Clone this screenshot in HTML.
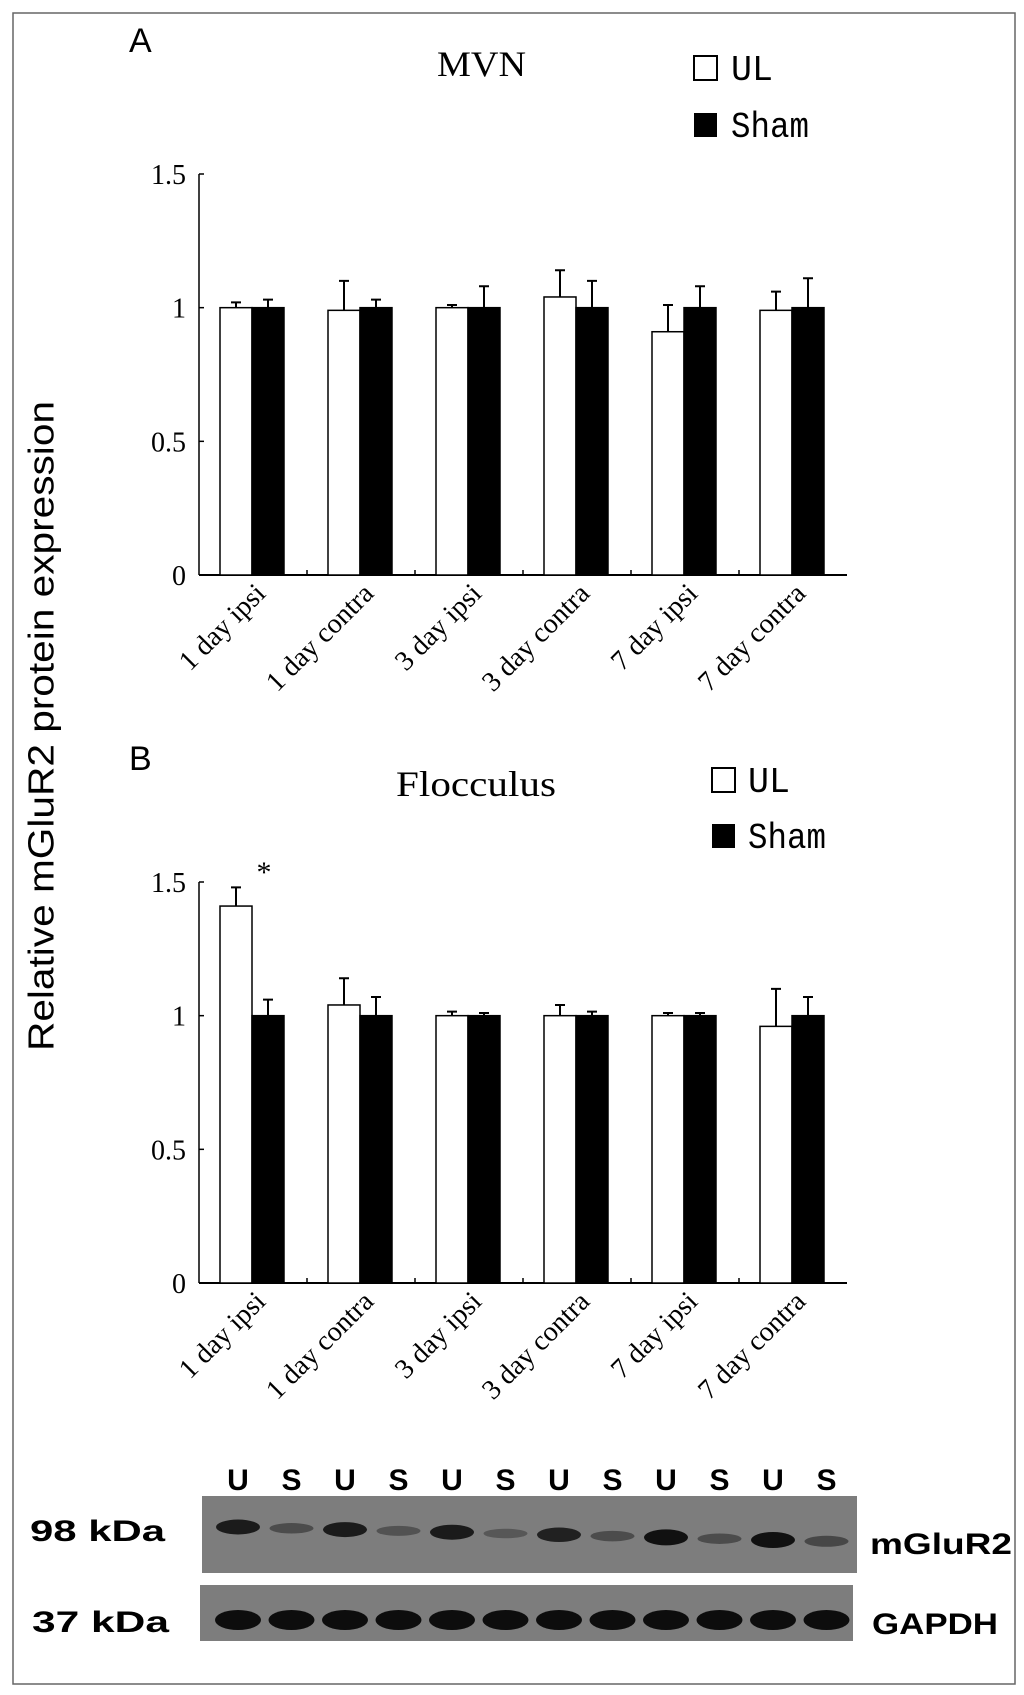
<!DOCTYPE html>
<html><head><meta charset="utf-8"><style>
html,body{margin:0;padding:0;background:#fff;}
svg{display:block;}
.ser{font-family:"Liberation Serif",serif;}
.sans{font-family:"Liberation Sans",sans-serif;}
.mono{font-family:"Liberation Mono",monospace;}
</style></head><body>
<svg id="fig" width="1024" height="1695" viewBox="0 0 1024 1695">
<rect x="13" y="13" width="1002" height="1671" fill="none" stroke="#666" stroke-width="1.5"/>
<text x="44" y="726" transform="rotate(-90 44 726)" text-anchor="middle" dominant-baseline="middle" class="sans" font-size="36" textLength="650" lengthAdjust="spacingAndGlyphs">Relative mGluR2 protein expression</text>

<text x="129" y="52" class="sans" font-size="34">A</text>
<text x="437" y="76" class="ser" font-size="36" textLength="89" lengthAdjust="spacingAndGlyphs">MVN</text>
<rect x="694" y="56" width="23" height="24" fill="#fff" stroke="#000" stroke-width="2"/>
<text x="731" y="80" class="mono" font-size="36" textLength="42" lengthAdjust="spacingAndGlyphs">UL</text>
<rect x="694" y="113" width="23" height="24" fill="#000"/>
<text x="731" y="137" class="mono" font-size="36" textLength="78" lengthAdjust="spacingAndGlyphs">Sham</text>

<text x="129" y="770" class="sans" font-size="34">B</text>
<text x="396" y="796" class="ser" font-size="36" textLength="160" lengthAdjust="spacingAndGlyphs">Flocculus</text>
<rect x="712" y="768" width="23" height="24" fill="#fff" stroke="#000" stroke-width="2"/>
<text x="748" y="792" class="mono" font-size="36" textLength="42" lengthAdjust="spacingAndGlyphs">UL</text>
<rect x="712" y="824" width="23" height="24" fill="#000"/>
<text x="748" y="848" class="mono" font-size="36" textLength="78" lengthAdjust="spacingAndGlyphs">Sham</text>
<text x="264" y="882" text-anchor="middle" class="ser" font-size="30">*</text>

<g id="chartA"></g>
<g id="chartB"></g>
<g id="blot"></g>
</svg>
<script>
const categories = ["1 day ipsi","1 day contra","3 day ipsi","3 day contra","7 day ipsi","7 day contra"];
const yTicks = [0, 0.5, 1, 1.5];
const yTickLabels = ["0","0.5","1","1.5"];
const mvnUL = [1.0, 0.99, 1.0, 1.04, 0.91, 0.99];
const mvnULErr = [0.02, 0.11, 0.01, 0.10, 0.10, 0.07];
const mvnSham = [1, 1, 1, 1, 1, 1];
const mvnShamErr = [0.03, 0.03, 0.08, 0.10, 0.08, 0.11];
const flocUL = [1.41, 1.04, 1.0, 1.0, 1.0, 0.96];
const flocULErr = [0.07, 0.10, 0.015, 0.04, 0.01, 0.14];
const flocSham = [1, 1, 1, 1, 1, 1];
const flocShamErr = [0.06, 0.07, 0.01, 0.015, 0.01, 0.07];
const laneLabels = ["U","S","U","S","U","S","U","S","U","S","U","S"];
const mglurIntensity = [0.9,0.45,0.9,0.4,0.9,0.35,0.85,0.45,1.0,0.45,1.0,0.5];
const gapdhIntensity = [1,1,1,1,1,1,1,1,1,1,1,1];

const NS="http://www.w3.org/2000/svg";
function mk(tag, attrs, parent){const e=document.createElementNS(NS,tag);for(const k in attrs)e.setAttribute(k,attrs[k]);parent.appendChild(e);return e;}

function drawChart(g, y0px, y15px, ul, ulErr, sham, shamErr, prefix){
  const x0=199, x1=847, n=categories.length, gw=(x1-x0)/n;
  const yS=v=>y0px-(v/1.5)*(y0px-y15px);
  const xS=i=>x0+i*gw;
  let a=mk('line',{x1:x0,y1:yS(0),x2:x0,y2:yS(1.5),stroke:'#000','stroke-width':1.5},g);
  
  
  a=mk('line',{x1:x0,y1:yS(0),x2:x1,y2:yS(0),stroke:'#000','stroke-width':2},g);
  
  
  yTicks.forEach((t,i)=>{
    const tk=mk('line',{x1:x0,y1:yS(t),x2:x0+5,y2:yS(t),stroke:'#000','stroke-width':1.5},g);
    
    
    const tl=mk('text',{x:x0-13,y:yS(t)+10,'text-anchor':'end','class':'ser','font-size':28},g);
    tl.textContent=yTickLabels[i];
    
    
  });
  for(let i=1;i<n;i++){
    const tk=mk('line',{x1:xS(i),y1:yS(0),x2:xS(i),y2:yS(0)-5,stroke:'#000','stroke-width':1.5},g);
    
    
  }
  categories.forEach((c,i)=>{
    const bx=xS(i)+21, bw=32;
    [[ul,ulErr,'#fff','ul'],[sham,shamErr,'#000','sham']].forEach((s,j)=>{
      const v=s[0][i], e=s[1][i], x=bx+j*bw;
      const r=mk('rect',{x:x,y:yS(v),width:bw,height:yS(0)-yS(v),fill:s[2],stroke:'#000','stroke-width':1.5},g);
      
      
      const cx=x+bw/2;
      const el=mk('path',{d:`M${cx},${yS(v)}V${yS(v+e)}M${cx-5},${yS(v+e)}H${cx+5}`,stroke:'#000','stroke-width':2,fill:'none'},g);
      
      
    });
    const cx=xS(i)+gw/2+14, ty=yS(0)+20;
    const lt=mk('text',{x:cx,y:ty,'text-anchor':'end','class':'ser','font-size':28,transform:`rotate(-45 ${cx} ${ty})`},g);
    lt.textContent=c;
    
    
  });
}
drawChart(document.getElementById('chartA'),575,174,mvnUL,mvnULErr,mvnSham,mvnShamErr,'mvn');
drawChart(document.getElementById('chartB'),1283,882,flocUL,flocULErr,flocSham,flocShamErr,'floc');

const b=document.getElementById('blot');
const laneX=i=>238+i*53.5;
laneLabels.forEach((l,i)=>{
  const t=mk('text',{x:laneX(i),y:1490,'text-anchor':'middle','class':'sans','font-size':30,'font-weight':'bold'},b);
  t.textContent=l;
  
  
});
let r=mk('rect',{x:202,y:1496,width:655,height:77,fill:'#7d7d7d'},b);


r=mk('rect',{x:200,y:1585,width:653,height:56,fill:'#7d7d7d'},b);


mglurIntensity.forEach((v,i)=>{
  const e=mk('ellipse',{cx:laneX(i),cy:1527+i*1.3,rx:22,ry:3+5*v,fill:'#111','fill-opacity':v},b);
  
  
});
gapdhIntensity.forEach((v,i)=>{
  const e=mk('ellipse',{cx:laneX(i),cy:1620,rx:23,ry:10,fill:'#0d0d0d','fill-opacity':v},b);
  
  
});
[["98 kDa",30,1541,135,'mw-98-label'],["37 kDa",32,1632,137,'mw-37-label'],["mGluR2",870,1554,142,'mglur2-label'],["GAPDH",872,1634,126,'gapdh-label']].forEach(d=>{
  const t=mk('text',{x:d[1],y:d[2],'class':'sans','font-size':30,'font-weight':'bold',textLength:d[3],lengthAdjust:'spacingAndGlyphs'},b);
  t.textContent=d[0];
  
  
});
</script>
</body></html>
